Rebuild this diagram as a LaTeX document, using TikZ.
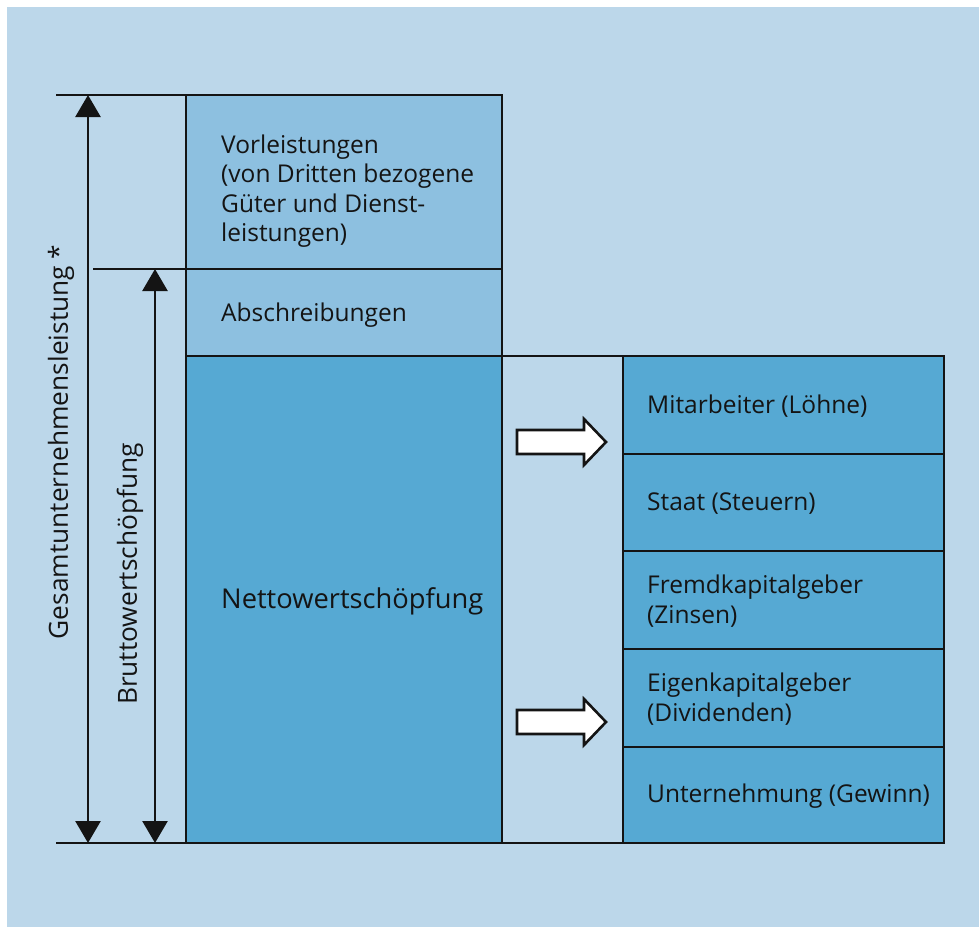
\documentclass[tikz,border=0pt]{standalone}
\usepackage{fontspec}
\setmainfont{Open Sans}
\usetikzlibrary{arrows.meta}
\definecolor{bgblue}{RGB}{188,215,234}
\definecolor{midblue}{RGB}{141,192,224}
\definecolor{deepblue}{RGB}{86,169,211}
\definecolor{ink}{RGB}{20,20,20}
\tikzset{
  frame/.style={draw=ink, line width=2.6pt, rectangle, inner sep=0pt, outer sep=0pt},
  upperbox/.style={frame, fill=midblue, anchor=north west},
  lowerbox/.style={frame, fill=deepblue, anchor=north west},
  gapbox/.style={frame, fill=bgblue, anchor=north west},
  lbl/.style={text=ink, inner sep=0pt, align=left, font=\fontsize{24.5}{29.5}\selectfont},
  biglbl/.style={text=ink, inner sep=0pt, font=\fontsize{27.3}{32}\selectfont},
  sidelbl/.style={text=ink, inner sep=0pt, rotate=90, font=\fontsize{26.3}{31}\selectfont},
  rule/.style={draw=ink, line width=2.6pt},
  dim/.style={draw=ink, line width=2.6pt, {Triangle[width=25pt,length=22pt]}-{Triangle[width=25pt,length=22pt]}},
  blockarrow/.style={draw=ink, fill=white, line width=2.6pt, line join=miter},
}
\begin{document}
\begin{tikzpicture}[x=1pt, y=-1pt]
  % page and background
  \useasboundingbox (0,0) rectangle (979,927);
  \fill[white] (0,0) rectangle (979,927);
  \fill[bgblue] (7,7) rectangle (979,927);

  % left column
  \node[upperbox, minimum width=316pt, minimum height=174pt] (vor) at (186,95) {};
  \node[upperbox, minimum width=316pt, minimum height=87pt] (abs) at (186,269) {};
  \node[lowerbox, minimum width=316pt, minimum height=487pt] (net) at (186,356) {};

  % gap between the columns
  \node[gapbox, minimum width=121pt, minimum height=487pt] (gap) at (502,356) {};

  % right column: distribution of the net value added
  \node[lowerbox, minimum width=321pt, minimum height=98pt] (r1) at (623,356) {};
  \node[lowerbox, minimum width=321pt, minimum height=97pt] (r2) at (623,454) {};
  \node[lowerbox, minimum width=321pt, minimum height=98pt] (r3) at (623,551) {};
  \node[lowerbox, minimum width=321pt, minimum height=98pt] (r4) at (623,649) {};
  \node[lowerbox, minimum width=321pt, minimum height=96pt] (r5) at (623,747) {};

  % extension lines for the dimension arrows
  \coordinate (topL) at (56,95);
  \coordinate (midL) at (93,269);
  \coordinate (botL) at (56,843);
  \draw[rule] (topL) -- (vor.north west);
  \draw[rule] (midL) -- (abs.north west);
  \draw[rule] (botL) -- (net.south west);

  % dimension arrows
  \coordinate (g1) at (88,95);
  \coordinate (g2) at (88,843);
  \coordinate (b1) at (155,269);
  \coordinate (b2) at (155,843);
  \draw[dim] (g1) -- (g2);
  \draw[dim] (b1) -- (b2);

  % texts
  \node[lbl, anchor=west] (tvor) at (221,191) {Vorleistungen\\(von Dritten bezogene\\Güter und Dienst-\\leistungen)};
  \node[lbl, anchor=west] (tabs) at ([xshift=35pt, yshift=-3pt]abs.west) {Abschreibungen};
  \node[biglbl, anchor=west] (tnet) at ([xshift=35pt, yshift=-2pt]net.west) {Nettowertschöpfung};
  \node[lbl, anchor=west] (t1) at ([xshift=24pt, yshift=-1pt]r1.west) {Mitarbeiter (Löhne)};
  \node[lbl, anchor=west] (t2) at ([xshift=24pt, yshift=-1pt]r2.west) {Staat (Steuern)};
  \node[lbl, anchor=west] (t3) at ([xshift=24pt, yshift=-1pt]r3.west) {Fremdkapitalgeber\\(Zinsen)};
  \node[lbl, anchor=west] (t4) at ([xshift=24pt, yshift=-1pt]r4.west) {Eigenkapitalgeber\\(Dividenden)};
  \node[lbl, anchor=west] (t5) at ([xshift=24pt, yshift=-1pt]r5.west) {Unternehmung (Gewinn)};
  \node[sidelbl] (tges) at (61,442) {Gesamtunternehmensleistung *};
  \node[sidelbl] (tbrut) at (130,574) {Bruttowertschöpfung};

  % white block arrows
  \coordinate (a1) at (517,442);
  \coordinate (a2) at (517,722);
  \draw[blockarrow] (a1) ++(0,-12) -- ++(67,0) -- ++(0,-11) -- ++(22,23) -- ++(-22,23) -- ++(0,-11) -- ++(-67,0) -- cycle;
  \draw[blockarrow] (a2) ++(0,-12) -- ++(67,0) -- ++(0,-11) -- ++(22,23) -- ++(-22,23) -- ++(0,-11) -- ++(-67,0) -- cycle;
\end{tikzpicture}
\end{document}
